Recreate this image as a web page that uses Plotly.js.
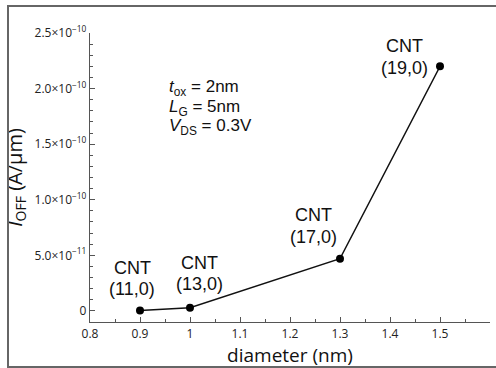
<!DOCTYPE html>
<html><head><meta charset="utf-8">
<script src="https://cdn.plot.ly/plotly-3.0.1.min.js"></script>
<style>
html,body{margin:0;padding:0;background:#fff;}
#wrap{position:relative;width:496px;height:368px;}
#plot{position:absolute;left:0;top:0;width:496px;height:368px;}
#frame{position:absolute;left:7px;top:5px;width:489px;height:359px;border-left:2px solid #666;border-top:2px solid #666;border-bottom:2px solid #666;pointer-events:none;}
</style></head>
<body><div id="wrap"><div id="plot"></div><div id="frame"></div></div>
<script>
const diameters = [0.9, 1.0, 1.3, 1.5];
const ioff = [0.3e-12, 2.8e-12, 4.7e-11, 2.2e-10];
const cntTop = ["CNT", "CNT", "CNT", "CNT"];
const cntChirality = ["(11,0)", "(13,0)", "(17,0)", "(19,0)"];
const paramLines = ["<i>t</i><sub>ox</sub> = 2nm", "<i>L</i><sub>G</sub> = 5nm", "<i>V</i><sub>DS</sub> = 0.3V"];
const yTickVals = [0, 5e-11, 1e-10, 1.5e-10, 2e-10, 2.5e-10];
const yTickText = ["0", "5.0×10<sup>−11</sup>", "1.0×10<sup>−10</sup>", "1.5×10<sup>−10</sup>", "2.0×10<sup>−10</sup>", "2.5×10<sup>−10</sup>"];
const xTickVals = [0.8, 0.9, 1.0, 1.1, 1.2, 1.3, 1.4, 1.5, 1.6];
const xTickText = ["0.8", "0.9", "1", "1.1", "1.2", "1.3", "1.4", "1.5", "1.6"];
// label offsets (pixels) relative to each point: [xshift, yshift of "CNT", yshift of chirality]
const labelShifts = [[-8, 43, 22], [9, 45, 24], [-27, 44, 22], [-36, 20, -2]];

const trace = {
  x: diameters, y: ioff, mode: 'lines+markers', type: 'scatter',
  line: {color: '#111', width: 1.4},
  marker: {color: '#000', size: 8},
  hoverinfo: 'none'
};

const annFont = {family: 'Liberation Sans, Arial, sans-serif', size: 18, color: '#111'};
const annotations = [];
diameters.forEach((d, i) => {
  annotations.push({
    x: d, y: ioff[i], xref: 'x', yref: 'y', text: cntTop[i], showarrow: false,
    xanchor: 'center', yanchor: 'middle', xshift: labelShifts[i][0], yshift: labelShifts[i][1], font: annFont
  });
  annotations.push({
    x: d, y: ioff[i], xref: 'x', yref: 'y', text: cntChirality[i], showarrow: false,
    xanchor: 'center', yanchor: 'middle', xshift: labelShifts[i][0], yshift: labelShifts[i][2], font: annFont
  });
});
const paramY = [0.810, 0.741, 0.675];
paramLines.forEach((t, i) => {
  annotations.push({
    x: 0.953, y: paramY[i], xref: 'x', yref: 'paper', showarrow: false, xanchor: 'left', yanchor: 'middle', align: 'left',
    text: t, font: {family: 'Liberation Sans, Arial, sans-serif', size: 17, color: '#111'}
  });
});

const axisCommon = {
  showgrid: false, zeroline: false, showline: true, linecolor: '#555', linewidth: 1.2,
  ticks: 'inside', tickcolor: '#555', ticklen: 5, tickwidth: 1,
  tickfont: {family: 'Open Sans, Noto Sans, sans-serif', size: 12, color: '#222'},
  tickmode: 'array', fixedrange: true
};

const layout = {
  width: 496, height: 368,
  margin: {l: 90, r: 6, t: 33, b: 46},
  paper_bgcolor: 'rgba(0,0,0,0)', plot_bgcolor: 'rgba(0,0,0,0)',
  showlegend: false,
  xaxis: Object.assign({}, axisCommon, {
    range: [0.8, 1.6], tickvals: xTickVals, ticktext: xTickText,
    minor: {dtick: 0.05, ticks: 'inside', ticklen: 3, tickcolor: '#555'},
    title: {text: 'diameter (nm)', font: {family: 'Open Sans, Noto Sans, sans-serif', size: 19, color: '#111'}, standoff: 4}
  }),
  yaxis: Object.assign({}, axisCommon, {
    range: [-1e-11, 2.5e-10], tickvals: yTickVals, ticktext: yTickText,
    minor: {dtick: 1e-11, ticks: 'inside', ticklen: 3, tickcolor: '#555'},
    title: {text: '<i>I</i><sub>OFF</sub> (A/μm)', font: {family: 'Open Sans, Noto Sans, sans-serif', size: 20, color: '#111'}, standoff: 6}
  }),
  annotations: annotations
};

Plotly.newPlot('plot', [trace], layout, {displayModeBar: false, staticPlot: true});
</script></body></html>
